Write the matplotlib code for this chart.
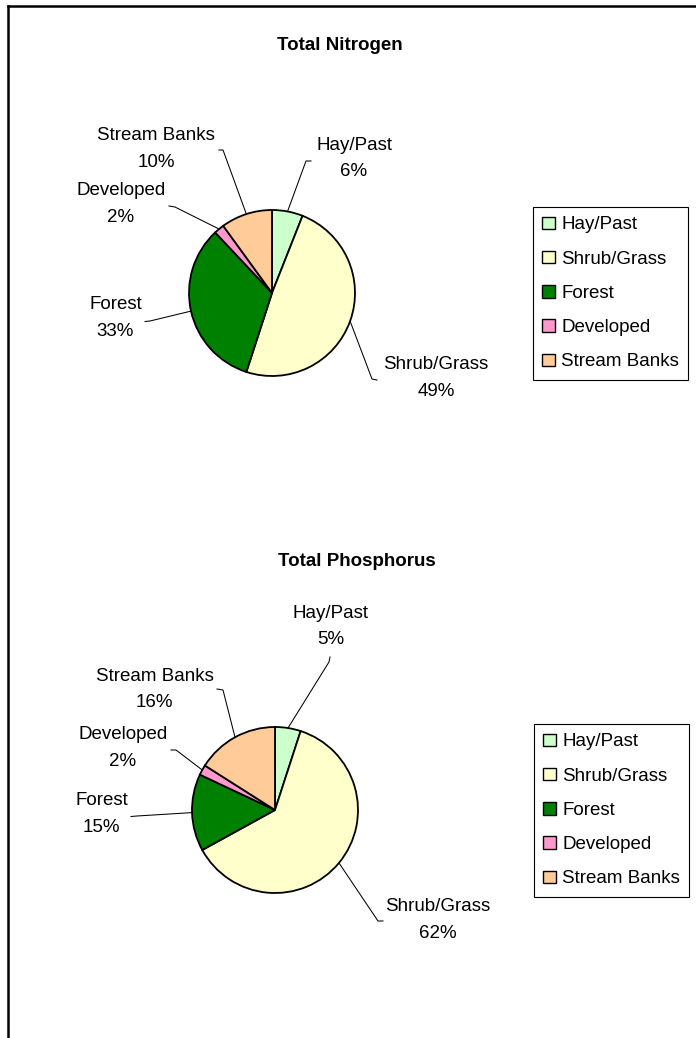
import numpy as np
import matplotlib
matplotlib.use("Agg")
import matplotlib.pyplot as plt
from matplotlib.patches import Patch
from matplotlib.lines import Line2D

plt.rcParams['font.family'] = ['Liberation Sans', 'DejaVu Sans']

categories = ['Hay/Past', 'Shrub/Grass', 'Forest', 'Developed', 'Stream Banks']
colors = ['#CCFFCC', '#FFFFCC', '#008000', '#FF99CC', '#FFCC99']
nitrogen = [6, 49, 33, 2, 10]
phosphorus = [5, 62, 15, 2, 16]

W, H = 696, 1038
FS = 13.5
fig = plt.figure(figsize=(W / 100, H / 100), dpi=100)


def draw(values, title, box, center, r, title_pos, lab_px, elbow_px, end_px, leg_px):
    x0, y0, x1, y1 = box
    cx, cy = center
    ax = fig.add_axes([x0 / W, 1 - y1 / H, (x1 - x0) / W, (y1 - y0) / H])
    wedges, _ = ax.pie(values, colors=colors, startangle=90, counterclock=False,
                       wedgeprops=dict(edgecolor='black', linewidth=1.3))
    ax.set_aspect('auto')
    ax.set_xlim((x0 - cx) / r, (x1 - cx) / r)
    ax.set_ylim((cy - y1) / r, (cy - y0) / r)
    ax.axis('off')

    def rel(p):
        return (p[0] - cx) / r, (cy - p[1]) / r

    total = sum(values)
    for w, cat, v, lp, el, en in zip(wedges, categories, values, lab_px, elbow_px, end_px):
        ang = np.deg2rad((w.theta1 + w.theta2) / 2)
        ex, ey = rel(el)
        nx, ny = rel(en)
        ax.plot([np.cos(ang), ex, nx], [np.sin(ang), ey, ny], color='black', lw=0.75)
        tx, ty = rel(lp)
        ax.text(tx, ty, f"{cat}\n{v / total * 100:.0f}%", ha='center', va='center',
                fontsize=FS, linespacing=1.75, multialignment='center')

    fig.text(title_pos[0] / W, 1 - title_pos[1] / H, title, ha='center', va='center',
             fontsize=FS, fontweight='bold')

    handles = [Patch(facecolor=c, edgecolor='black', linewidth=1.0) for c in colors]
    leg = fig.legend(handles, categories, loc='upper left',
                     bbox_to_anchor=(leg_px[0] / W, 1 - leg_px[1] / H),
                     frameon=True, fancybox=False, edgecolor='black', framealpha=1,
                     fontsize=FS, handlelength=0.65, handleheight=0.65,
                     handletextpad=0.35, labelspacing=0.92, borderpad=0.5,
                     borderaxespad=0)
    leg.get_frame().set_linewidth(0.8)


draw(nitrogen, 'Total Nitrogen', (10, 30, 520, 470), (272, 293), 83, (340, 46),
     [(354, 158.5), (436, 378), (115.5, 318), (121, 204), (156, 149)],
     [(306, 161), (372, 379), (150, 321), (175, 207), (223, 150)],
     [(311, 161), (377, 380), (145, 321.5), (169, 206), (219, 150)],
     (533, 207))

draw(phosphorus, 'Total Phosphorus', (10, 560, 520, 1000), (275, 810), 83, (357, 561),
     [(331, 626.5), (438, 920), (101.5, 814), (123, 748), (154.5, 689.5)],
     [(329, 662), (378, 921), (137, 816), (176, 750), (223, 690)],
     [(330, 657), (383, 921), (131, 816.5), (171, 750), (217, 689)],
     (534, 724))

# outer frame (left and top edges only visible)
fig.add_artist(Line2D([8 / W, 8 / W], [0, 1 - 6 / H], transform=fig.transFigure,
                      color='black', lw=1.8))
fig.add_artist(Line2D([8 / W, 1], [1 - 6 / H, 1 - 6 / H], transform=fig.transFigure,
                      color='black', lw=1.8))

fig.savefig('out.png', dpi=100)
